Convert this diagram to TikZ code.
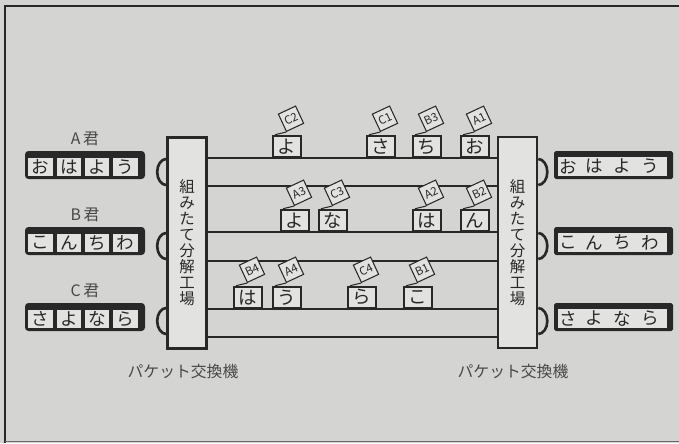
\documentclass[tikz,border=0pt]{standalone}
\usepackage{fontspec}
\setmainfont{Noto Sans CJK JP}
\usetikzlibrary{calc,positioning}
\definecolor{xPaper}{RGB}{212,212,210}
\definecolor{xCell}{RGB}{226,226,224}
\definecolor{xInk}{RGB}{40,40,40}
\tikzset{
  pillar/.style={draw=xInk, line width=1.5pt, fill=xCell, minimum width=0.78cm, minimum height=4.22cm,
    inner sep=0pt, align=center, font=\fontsize{8.8}{9.1}\selectfont, text=xInk},
  pkt/.style={draw=xInk, line width=1.3pt, fill=xCell, minimum width=0.56cm, minimum height=0.42cm,
    inner sep=0pt, anchor=south west, font=\fontsize{10.5}{10.5}\selectfont, text=xInk},
  tagbox/.style={draw=xInk, line width=0.6pt, fill=xCell, rotate=25, minimum size=0.38cm,
    inner sep=0pt, font=\fontsize{6.5}{6.5}\selectfont, text=xInk},
  cell/.style={fill=xCell, minimum width=0.5cm, minimum height=0.37cm, inner sep=0pt,
    font=\fontsize{10}{10}\selectfont, text=xInk},
  who/.style={font=\fontsize{9}{9}\selectfont, text=xInk!85},
  caption/.style={font=\fontsize{9}{9}\selectfont, text=xInk!85}
}

\begin{document}
\begin{tikzpicture}[x=0.02cm, y=-0.02cm]
    \useasboundingbox (0,0) rectangle (679,443);
    \fill[xPaper] (0,0) rectangle (679,443);
    % frame
    \draw[xInk, line width=0.6pt] (5,443) -- (5,6) -- (679,6);
    \draw[xInk!70, line width=0.5pt] (5,441) -- (679,441);

    % the two switches
    \node[pillar] (lsw) at (187,243) {組\\み\\た\\て\\分\\解\\工\\場};
    \node[pillar] (rsw) at (517.5,242.5) {組\\み\\た\\て\\分\\解\\工\\場};
    \node[caption] (lcap) at (183,372) {パケット交換機};
    \node[caption] (rcap) at (513,372) {パケット交換機};

    % three lines between the switches
    \foreach \ya/\yb in {158/186, 232/261, 309/337} {
        \draw[xInk, line width=1.4pt] (lsw.east |- 0,\ya) -- (rsw.west |- 0,\ya);
        \draw[xInk, line width=1.4pt] (lsw.east |- 0,\yb) -- (rsw.west |- 0,\yb);
    }

    % ports
    \foreach \y in {172,246,321} {
        \draw[xInk, line width=1.5pt] (lsw.west |- 0,\y-13) arc (270:90:9 and 13);
        \draw[xInk, line width=1.5pt] (rsw.east |- 0,\y-13) arc (-90:90:9 and 13);
    }

    % users on the left
    \foreach \nm/\y/\ca/\cb/\cc/\cd in {A/151/お/は/よ/う, B/227/こ/ん/ち/わ, C/303/さ/よ/な/ら} {
        \node[who] (who\nm) at (85,\y-12) {\nm\,君};
        \fill[xInk, rounded corners=2pt] (25,\y) rectangle (145,\y+28);
        \node[cell] (\nm1) at (40.5,\y+16) {\ca};
        \node[cell] (\nm2) at (69,\y+16) {\cb};
        \node[cell] (\nm3) at (97,\y+16) {\cc};
        \node[cell] (\nm4) at (125.5,\y+16) {\cd};
        % received on the right
        \fill[xInk, rounded corners=1pt] (554,\y) rectangle (673,\y+28);
        \fill[xCell] (558,\y+6) rectangle (667,\y+25);
        \node[cell, fill=none] (r\nm1) at (568,\y+15.5) {\ca};
        \node[cell, fill=none] (r\nm2) at (594,\y+15.5) {\cb};
        \node[cell, fill=none] (r\nm3) at (622,\y+15.5) {\cc};
        \node[cell, fill=none] (r\nm4) at (650,\y+15.5) {\cd};
    }

    % packets on their way
    \foreach \i/\x/\y/\ch/\tg in {1/272/158/よ/C2, 2/366/158/さ/C1, 3/412/158/ち/B3, 4/460/158/お/A1,
        5/280/232/よ/A3, 6/318/232/な/C3, 7/412/232/は/A2, 8/460/232/ん/B2,
        9/233/309/は/B4, 10/272/309/う/A4, 11/347/309/ら/C4, 12/403/309/こ/B1} {
        \node[pkt] (p\i) at (\x,\y) {\ch};
        \node[tagbox] (t\i) at ($(p\i.north west)+(19,-16)$) {\tg};
        \draw[xInk, line width=0.6pt] (t\i.south west) -- ($(p\i.north west)+(3,0)$);
    }
\end{tikzpicture}
\end{document}
